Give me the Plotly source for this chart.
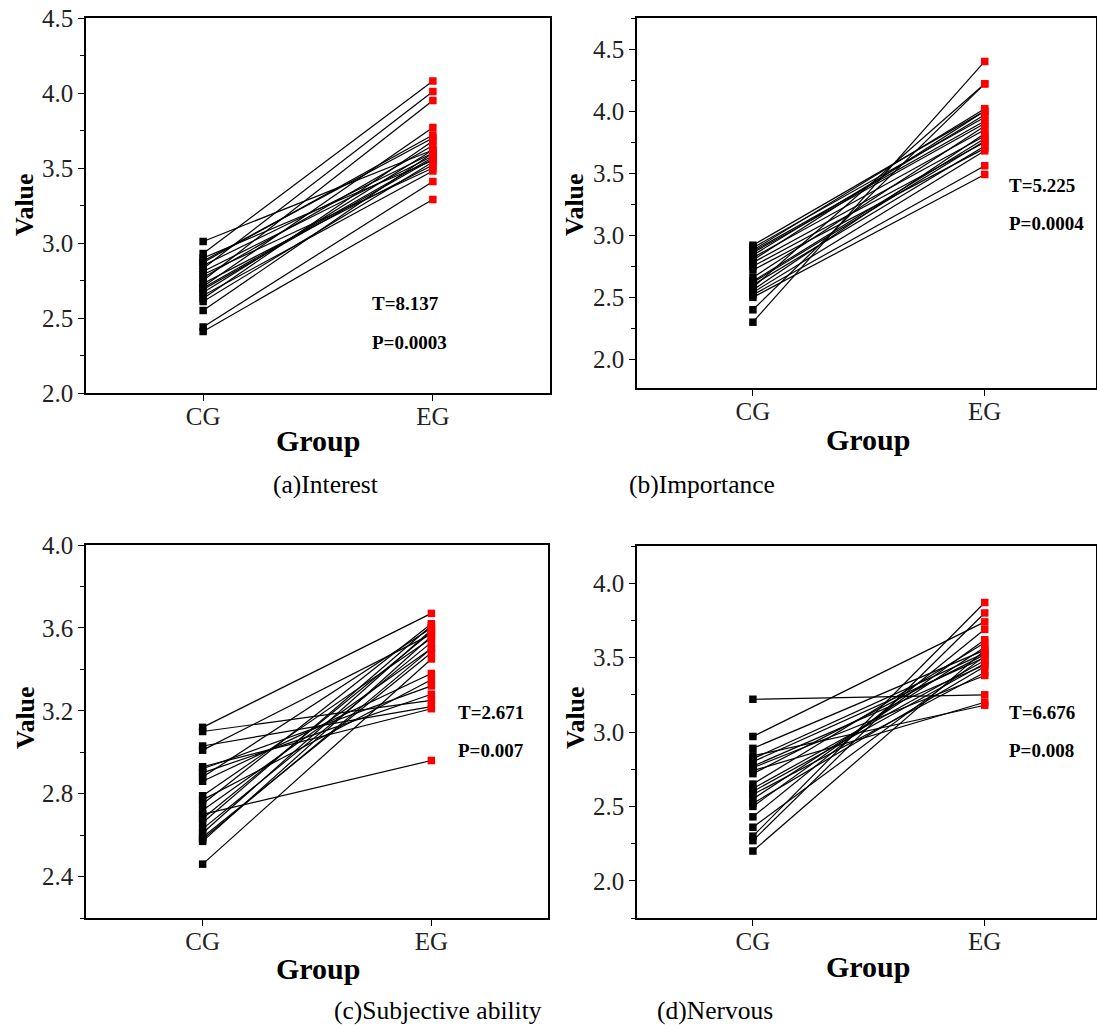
import plotly.graph_objects as go

W, H = 1097, 1025
groups = ["CG", "EG"]

# Panel (a) Interest
a_cg = [3.01, 2.93, 2.90, 2.87, 2.85, 2.83, 2.81, 2.79, 2.77, 2.75, 2.73, 2.71, 2.69, 2.67, 2.65, 2.63, 2.61, 2.55, 2.44, 2.41, 2.88, 2.70]
a_eg = [3.62, 4.08, 3.55, 3.72, 3.60, 4.01, 3.58, 3.50, 3.65, 3.95, 3.52, 3.77, 3.56, 3.62, 3.48, 3.68, 3.54, 3.60, 3.41, 3.29, 3.70, 3.57]
# Panel (b) Importance
b_cg = [2.92, 2.90, 2.88, 2.86, 2.84, 2.82, 2.80, 2.78, 2.75, 2.72, 2.66, 2.63, 2.60, 2.58, 2.56, 2.54, 2.52, 2.50, 2.40, 2.30, 2.87, 2.62]
b_eg = [4.00, 3.95, 4.02, 3.90, 3.97, 3.85, 4.00, 3.80, 3.75, 3.70, 3.88, 3.78, 3.72, 4.22, 3.82, 3.68, 3.56, 3.49, 4.22, 4.40, 3.92, 3.76]
# Panel (c) Subjective ability
c_cg = [3.12, 3.10, 3.03, 3.01, 2.93, 2.90, 2.88, 2.79, 2.77, 2.75, 2.72, 2.70, 2.68, 2.63, 2.61, 2.59, 2.57, 2.46, 2.92, 2.66, 2.86, 2.58]
c_eg = [3.67, 3.25, 3.22, 3.57, 3.21, 3.28, 3.60, 3.55, 3.35, 3.62, 3.50, 2.96, 3.58, 3.53, 3.59, 3.48, 3.56, 3.45, 3.32, 3.61, 3.38, 3.50]
# Panel (d) Nervous
d_cg = [3.22, 2.97, 2.89, 2.84, 2.80, 2.77, 2.74, 2.72, 2.65, 2.62, 2.58, 2.55, 2.52, 2.43, 2.36, 2.30, 2.27, 2.20, 2.76, 2.60, 2.82, 2.50]
d_eg = [3.25, 3.74, 3.55, 3.18, 3.50, 3.45, 3.20, 3.52, 3.60, 3.48, 3.40, 3.57, 3.44, 3.69, 3.51, 3.87, 3.80, 3.55, 3.38, 3.46, 3.53, 3.62]

captions = ["(a)Interest", "(b)Importance", "(c)Subjective ability", "(d)Nervous"]
t_labels = ["T=8.137", "T=5.225", "T=2.671", "T=6.676"]
p_labels = ["P=0.0003", "P=0.0004", "P=0.007", "P=0.008"]

FONT = "Liberation Serif, Times New Roman, serif"

def px(x):
    return x / W

def py(y):
    return 1 - y / H

panels = [
    dict(cg=a_cg, eg=a_eg, xd=(86, 550), yd=(18, 393), xr=(0.49, 2.51), yr=(2.0, 4.5), dt=0.5, tick0=2.0,
         value=(25, 205), group=(318, 441), cap=(325, 484), tp=(370, 303, 342)),
    dict(cg=b_cg, eg=b_eg, xd=(637, 1096), yd=(18, 388), xr=(0.5, 2.48), yr=(1.77, 4.75), dt=0.5, tick0=2.0,
         value=(575, 205), group=(868, 440), cap=(702, 484), tp=(1007, 186, 224)),
    dict(cg=c_cg, eg=c_eg, xd=(86, 548), yd=(545, 918), xr=(0.49, 2.51), yr=(2.2, 4.0), dt=0.4, tick0=2.4,
         value=(25, 718), group=(318, 968), cap=(438, 1010), tp=(456, 712, 750)),
    dict(cg=d_cg, eg=d_eg, xd=(637, 1096), yd=(546, 918), xr=(0.5, 2.48), yr=(1.75, 4.25), dt=0.5, tick0=2.0,
         value=(575, 718), group=(868, 966), cap=(715, 1010), tp=(1007, 712, 750)),
]

fig = go.Figure()
annotations = []
layout = {}

for i, p in enumerate(panels):
    n = i + 1
    xa = "x" if n == 1 else f"x{n}"
    ya = "y" if n == 1 else f"y{n}"
    lx, ly = [], []
    for c, e in zip(p["cg"], p["eg"]):
        lx += [groups[0], groups[1], None]
        ly += [c, e, None]
    fig.add_trace(go.Scatter(x=lx, y=ly, mode="lines", line=dict(color="black", width=1.2),
                             xaxis=xa, yaxis=ya, showlegend=False, hoverinfo="skip"))
    fig.add_trace(go.Scatter(x=[groups[0]] * len(p["cg"]), y=p["cg"], mode="markers",
                             marker=dict(symbol="square", size=7.5, color="black"),
                             xaxis=xa, yaxis=ya, showlegend=False))
    fig.add_trace(go.Scatter(x=[groups[1]] * len(p["eg"]), y=p["eg"], mode="markers",
                             marker=dict(symbol="square", size=7.5, color="red"),
                             xaxis=xa, yaxis=ya, showlegend=False))
    xkey = "xaxis" if n == 1 else f"xaxis{n}"
    ykey = "yaxis" if n == 1 else f"yaxis{n}"
    layout[xkey] = dict(
        domain=[px(p["xd"][0]), px(p["xd"][1])], anchor=ya,
        type="category", categoryorder="array", categoryarray=groups,
        range=[p["xr"][0] - 1, p["xr"][1] - 1],
        showline=True, linecolor="black", linewidth=1.5, mirror=True,
        ticks="outside", ticklen=6, tickwidth=1.2, tickcolor="black",
        showgrid=False, zeroline=False, automargin=False, ticklabelstandoff=-6,
        tickfont=dict(family=FONT, size=25, color="#222"),
    )
    layout[ykey] = dict(
        domain=[py(p["yd"][1]), py(p["yd"][0])], anchor=xa,
        range=list(p["yr"]), tick0=p["tick0"], dtick=p["dt"], tickformat=".1f",
        showline=True, linecolor="black", linewidth=1.5, mirror=True,
        ticks="outside", ticklen=6, tickwidth=1.2, tickcolor="black",
        minor=dict(ticks="outside", ticklen=4, tickwidth=1.2, tickcolor="black", dtick=p["dt"] / 2, tick0=p["tick0"]),
        showgrid=False, zeroline=False, automargin=False,
        tickfont=dict(family=FONT, size=25, color="#222"),
    )
    annotations.append(dict(text="<b>Value</b>", x=px(p["value"][0]), y=py(p["value"][1]), xref="paper", yref="paper",
                            textangle=-90, showarrow=False, font=dict(family=FONT, size=26, color="black"),
                            xanchor="center", yanchor="middle"))
    annotations.append(dict(text="<b>Group</b>", x=px(p["group"][0]), y=py(p["group"][1]), xref="paper", yref="paper",
                            showarrow=False, font=dict(family=FONT, size=30, color="black"),
                            xanchor="center", yanchor="middle"))
    annotations.append(dict(text=captions[i], x=px(p["cap"][0]), y=py(p["cap"][1]), xref="paper", yref="paper",
                            showarrow=False, font=dict(family=FONT, size=25.5, color="black"),
                            xanchor="center", yanchor="middle"))
    annotations.append(dict(text=f"<b>{t_labels[i]}</b>", x=px(p["tp"][0]), y=py(p["tp"][1]), xref="paper", yref="paper",
                            showarrow=False, font=dict(family=FONT, size=19, color="black"),
                            xanchor="left", yanchor="middle"))
    annotations.append(dict(text=f"<b>{p_labels[i]}</b>", x=px(p["tp"][0]), y=py(p["tp"][2]), xref="paper", yref="paper",
                            showarrow=False, font=dict(family=FONT, size=19, color="black"),
                            xanchor="left", yanchor="middle"))

fig.update_layout(
    width=W, height=H,
    margin=dict(l=0, r=0, t=0, b=0, pad=0),
    paper_bgcolor="white", plot_bgcolor="white",
    annotations=annotations,
    **layout,
)

fig.write_html("out.html", config={"displayModeBar": False},
               post_script="document.body.style.margin='0px';document.body.style.overflow='hidden';")
